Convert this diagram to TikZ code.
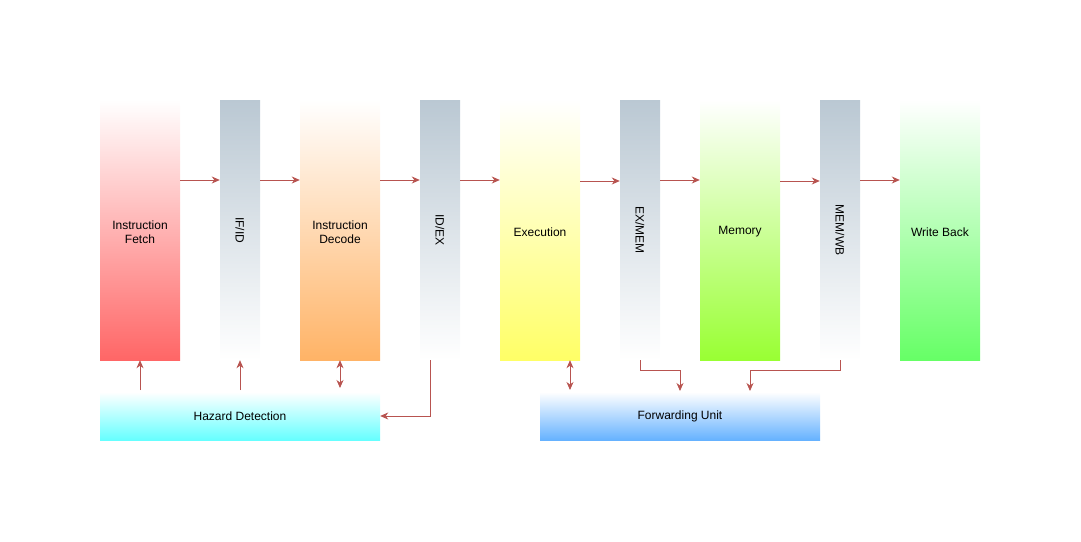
\documentclass[tikz,border=0pt]{standalone}
\usepackage{fontspec}
\setmainfont{Liberation Sans}
\usetikzlibrary{arrows.meta}
\definecolor{arr}{HTML}{B85450}
\definecolor{regc}{HTML}{BAC8D3}
\definecolor{cIF}{HTML}{FF6666}
\definecolor{cID}{HTML}{FFB366}
\definecolor{cEX}{HTML}{FFFF66}
\definecolor{cMEM}{HTML}{99FF33}
\definecolor{cWB}{HTML}{66FF66}
\definecolor{cHZ}{HTML}{66FFFF}
\definecolor{cFW}{HTML}{66B2FF}
\tikzset{
  txt/.style={font=\fontsize{12}{14}\selectfont, align=center, inner sep=0pt},
  stagebox/.style={minimum width=80pt, minimum height=260pt, inner sep=0pt,
    top color=white, bottom color=#1, draw=none},
  regbox/.style={minimum width=40pt, minimum height=260pt, inner sep=0pt,
    top color=regc, bottom color=white, draw=none},
  reglabel/.style={txt, rotate=-90},
  unitbox/.style={minimum width=280pt, minimum height=48pt, inner sep=0pt,
    top color=white, bottom color=#1, draw=none, font=\fontsize{12}{14}\selectfont},
  conn/.style={draw=arr, line width=0.9pt, -{Stealth[length=8pt,width=7pt,inset=2.5pt]}},
  dconn/.style={draw=arr, line width=0.9pt, {Stealth[length=8pt,width=7pt,inset=2.5pt]}-{Stealth[length=8pt,width=7pt,inset=2.5pt]}},
}
\begin{document}
\begin{tikzpicture}[x=1pt,y=-1pt]
\useasboundingbox (0,0) rectangle (1081,541);
\node[stagebox=cIF] (if) at (140,230) {};
\node[txt] (ifl) at (140,232) {Instruction\\Fetch};
\node[regbox] (ifid) at (240,230) {};
\node[reglabel] (ifidl) at (ifid.center) {IF/ID};
\node[stagebox=cID] (id) at (340,230) {};
\node[txt] (idl) at (340,232) {Instruction\\Decode};
\node[regbox] (idex) at (440,230) {};
\node[reglabel] (idexl) at (idex.center) {ID/EX};
\node[stagebox=cEX] (ex) at (540,230) {};
\node[txt] (exl) at (540,232) {Execution};
\node[regbox] (exmem) at (640,230) {};
\node[reglabel] (exmeml) at (exmem.center) {EX/MEM};
\node[stagebox=cMEM] (mem) at (740,230) {};
\node[txt] (meml) at (740,232) {Memory};
\node[regbox] (memwb) at (840,230) {};
\node[reglabel] (memwbl) at (memwb.center) {MEM/WB};
\node[stagebox=cWB] (wb) at (940,230) {};
\node[txt] (wbl) at (940,232) {Write Back};
\node[unitbox=cHZ] (hz) at (240,416) {Hazard Detection};
\node[unitbox=cFW] (fw) at (680,416) {Forwarding Unit};

% pipeline arrows
\draw[conn] (if.east |- 0,180) -- (ifid.west |- 0,180);
\draw[conn] (ifid.east |- 0,180) -- (id.west |- 0,180);
\draw[conn] (id.east |- 0,180) -- (idex.west |- 0,180);
\draw[conn] (idex.east |- 0,180) -- (ex.west |- 0,180);
\draw[conn] (ex.east |- 0,181) -- (exmem.west |- 0,181);
\draw[conn] (exmem.east |- 0,180) -- (mem.west |- 0,180);
\draw[conn] (mem.east |- 0,181) -- (memwb.west |- 0,181);
\draw[conn] (memwb.east |- 0,180) -- (wb.west |- 0,180);

% hazard detection
\coordinate (h1) at (140,390);
\coordinate (h2) at (240,390);
\coordinate (h3b) at (340,388);
\draw[conn] (h1) -- (if.south -| h1);
\draw[conn] (h2) -- (ifid.south -| h2);
\draw[dconn] (id.south) -- (h3b);
\coordinate (h4) at (430,360);
\draw[conn] (idex.south -| h4) -- (430,416) -- (hz.east);

% forwarding unit
\coordinate (f1) at (570,390);
\draw[dconn] (ex.south -| f1) -- (f1);
\coordinate (f2) at (640,370);
\draw[conn] (exmem.south) -- (f2) -- (680,370) -- (680,391);
\draw[conn] (memwb.south) -- (840,370) -- (750,370) -- (750,391);
\end{tikzpicture}
\end{document}
